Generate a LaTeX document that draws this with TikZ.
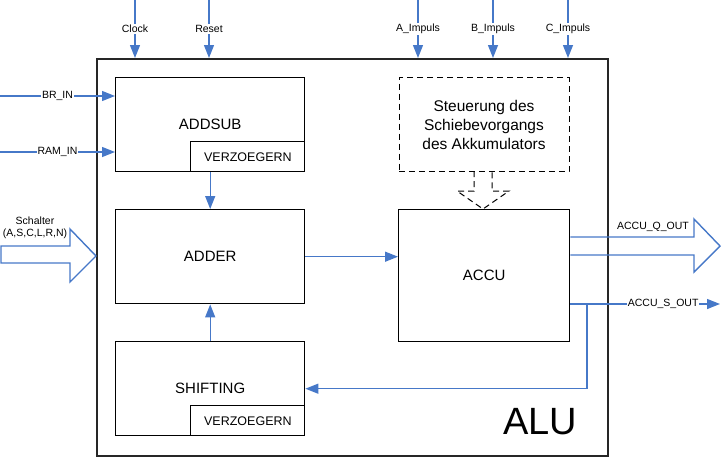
\documentclass[tikz,border=0pt]{standalone}
\usepackage{fontspec}
\setmainfont{Liberation Sans}
\usetikzlibrary{arrows.meta}
\definecolor{sigblue}{RGB}{70,120,200}
\begin{document}
\begin{tikzpicture}[x=1pt,y=-1pt,
  blk/.style={draw=black, line width=1.4pt, anchor=north west, inner sep=0pt,
    minimum width=189pt, minimum height=94pt, font=\fontsize{15}{18}\selectfont},
  sub/.style={draw=black, line width=1pt, anchor=south east, inner sep=0pt,
    minimum width=114pt, minimum height=30pt, font=\fontsize{12.5}{15}\selectfont},
  sig/.style={draw=sigblue, line width=1.4pt, -{Triangle[length=13pt,width=10pt]}},
  sigline/.style={draw=sigblue, line width=1.4pt},
  bigarrow/.style={draw=sigblue, line width=1.4pt, line join=miter},
  lbl/.style={fill=white, inner sep=1pt, font=\fontsize{10.5}{12}\selectfont},
]
\useasboundingbox (0,0) rectangle (721,456);
% outer ALU box
\node[draw=black!85, line width=2pt, anchor=north west, inner sep=0pt,
  minimum width=511pt, minimum height=397pt] (alu) at (96,58) {};
\node[font=\fontsize{38}{40}\selectfont] (alulbl) at (540,422) {ALU};
% blocks
\node[blk] (addsub) at (115,77) {ADDSUB};
\node[sub] (vz1) at (addsub.south east) {VERZOEGERN};
\node[blk] (adder) at (115,209) {ADDER};
\node[blk] (shift) at (115,341) {SHIFTING};
\node[sub] (vz2) at (shift.south east) {VERZOEGERN};
\node[blk, minimum width=171pt, minimum height=132pt] (accu) at (398,209) {ACCU};
\node[draw=black, line width=1pt, dashed, dash pattern=on 6pt off 4pt, anchor=north west,
  inner sep=0pt, minimum width=170pt, minimum height=94pt, align=center,
  font=\fontsize{15.5}{19}\selectfont] (steu) at (398.5,77)
  {Steuerung des\\Schiebevorgangs\\des Akkumulators};
% dashed block arrow
\draw[black, line width=1pt, dash pattern=on 6pt off 4pt]
  (474,171) -- (474,191) -- (457,191) -- (483,209) -- (509,191) -- (492,191) -- (492,171);
% top inputs
\foreach \nm/\xx/\tx in {clk/135/Clock, rst/209/Reset, ai/418/A\_Impuls, bi/493/B\_Impuls, ci/568/C\_Impuls}{
  \coordinate (\nm) at (\xx,0);
  \draw[sig] (\nm) -- (\nm |- alu.north) node[lbl, midway] {\tx};
}
% left inputs
\coordinate (brin) at (0,96);
\draw[sig] (brin) -- (brin -| addsub.west) node[lbl, midway] {BR\_IN};
\coordinate (ramin) at (0,152);
\draw[sig] (ramin) -- (ramin -| addsub.west) node[lbl, midway] {RAM\_IN};
% Schalter big arrow
\draw[bigarrow] (1,246) -- (70,246) -- (70,229) -- (96,256) -- (70,282) -- (70,263) -- (1,263) -- cycle;
\node[font=\fontsize{10.5}{12}\selectfont] (schl1) at (35,221) {Schalter};
\node[font=\fontsize{10.5}{12}\selectfont] (schl2) at (35,234) {(A,S,C,L,R,N)};
% internal connections
\draw[sig] (addsub.south) -- (adder.north);
\draw[sig] (shift.north) -- (adder.south);
\draw[sig] (adder.east) -- (adder.east -| accu.west);
% ACCU_Q_OUT big arrow
\draw[bigarrow] (accu.east |- 0,237) -- (694,237) -- (694,219) -- (720,246) -- (694,272) -- (694,255) -- (accu.east |- 0,255);
\node[font=\fontsize{10.5}{12}\selectfont] (qout) at (653,227) {ACCU\_Q\_OUT};
% ACCU_S_OUT
\coordinate (sout) at (720,304);
\draw[sig] (sout -| accu.east) -- (sout) node[lbl, pos=0.62] {ACCU\_S\_OUT};
% feedback to SHIFTING
\coordinate (fb) at (587,304);
\draw[sig] (fb) -- (fb |- shift.east) -- (shift.east);
\end{tikzpicture}
\end{document}
